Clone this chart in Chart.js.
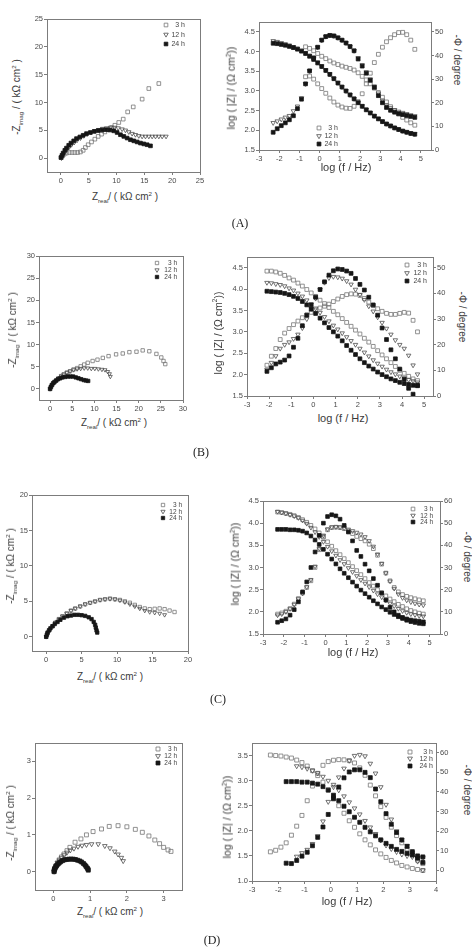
<!DOCTYPE html>
<html>
<head>
<meta charset="utf-8">
<script src="https://cdn.jsdelivr.net/npm/chart.js@4.4.1/dist/chart.umd.min.js"></script>
<style>
    html, body { margin: 0; padding: 0; background: #fff; }
    #figure { position: relative; width: 472px; height: 947px; overflow: hidden; background: #fff;
        font-family: 'Liberation Sans', Arial, sans-serif; color: #333; }
    #figure canvas { position: absolute; }
    .axis-title { position: absolute; white-space: nowrap; line-height: 1; color: #3a3a3a; }
    .axis-title sub, .axis-title sup { font-size: 62%; line-height: 0; }
    .panel-tag { position: absolute; font-family: 'Liberation Serif', 'Times New Roman', serif; font-size: 12px;
        color: #222; transform: translate(-50%, -50%); white-space: nowrap; }
</style>
</head>
<body>
<div id="figure"></div>
<script>
const hours = ['3 h', '12 h', '24 h'];

// Nyquist data: [Z_real, -Z_imag] in kOhm cm2
const nyquistA3h = [[0.1,0.1],[0.3,0.4],[0.6,0.7],[1.0,0.9],[1.5,1.0],[2.0,1.0],[2.5,1.0],[3.0,1.0],[3.5,1.1],[4.0,1.4],[4.4,1.9],[4.9,2.4],[5.5,2.9],[6.1,3.4],[6.7,3.9],[7.3,4.3],[7.9,4.7],[8.5,5.1],[9.1,5.5],[9.7,5.9],[10.4,6.4],[11.2,7.0],[12.0,8.3],[13.0,9.2],[14.6,10.6],[15.8,12.5],[17.6,13.4]];
const nyquistA12h = [[0.1,0.0],[0.3,0.4],[0.5,0.8],[0.8,1.2],[1.1,1.6],[1.5,2.0],[1.9,2.4],[2.4,2.8],[2.9,3.2],[3.5,3.6],[4.1,4.0],[4.7,4.3],[5.4,4.6],[6.1,4.9],[6.8,5.1],[7.5,5.3],[8.2,5.4],[8.9,5.5],[9.6,5.5],[10.3,5.4],[11.0,5.2],[11.6,5.0],[12.2,4.7],[12.8,4.4],[13.4,4.2],[14.0,4.0],[14.6,3.9],[15.2,3.9],[15.8,3.9],[16.4,3.9],[17.0,3.9],[17.6,3.9],[18.2,3.9],[18.9,3.9]];
const nyquistA24h = [[0.0,0.1],[0.2,0.5],[0.4,0.9],[0.7,1.4],[1.0,1.8],[1.4,2.3],[1.8,2.7],[2.3,3.1],[2.8,3.5],[3.4,3.8],[4.0,4.1],[4.6,4.4],[5.3,4.6],[6.0,4.8],[6.7,4.95],[7.4,5.05],[8.1,5.1],[8.8,5.05],[9.5,4.9],[10.1,4.6],[10.7,4.2],[11.3,3.9],[11.9,3.6],[12.5,3.3],[13.1,3.1],[13.7,2.9],[14.3,2.7],[14.9,2.55],[15.5,2.4],[16.1,2.2]];

const nyquistB3h = [[0.0,0.0],[0.2,0.4],[0.5,0.9],[0.9,1.4],[1.4,1.9],[1.9,2.4],[2.5,2.9],[3.1,3.3],[3.8,3.7],[4.5,4.0],[5.3,4.4],[6.1,4.7],[6.9,5.1],[7.7,5.5],[8.5,5.9],[9.6,6.3],[10.7,6.6],[11.9,7.0],[13.2,7.4],[14.9,7.8],[16.4,8.0],[17.9,8.3],[19.5,8.4],[20.9,8.7],[22.4,8.5],[24.0,7.9],[25.1,7.1],[25.6,6.3],[26.0,5.6]];
const nyquistB12h = [[0.0,0.0],[0.2,0.4],[0.5,0.9],[0.9,1.4],[1.4,1.9],[1.9,2.4],[2.5,2.9],[3.1,3.3],[3.8,3.7],[4.5,4.0],[5.3,4.3],[6.1,4.5],[6.9,4.6],[7.7,4.7],[8.5,4.7],[9.3,4.6],[10.1,4.6],[10.9,4.5],[11.7,4.4],[12.4,4.3],[13.0,3.9],[13.4,3.4],[13.6,2.8]];
const nyquistB24h = [[0.0,0.0],[0.2,0.5],[0.4,0.9],[0.7,1.3],[1.0,1.6],[1.4,1.9],[1.8,2.2],[2.3,2.4],[2.8,2.6],[3.4,2.7],[4.0,2.8],[4.6,2.8],[5.2,2.8],[5.8,2.6],[6.4,2.4],[7.0,2.2],[7.6,2.0],[8.1,1.9],[8.6,1.8]];

const nyquistC3h = [[0.0,0.0],[0.2,0.5],[0.5,1.0],[0.9,1.5],[1.3,2.0],[1.8,2.5],[2.3,2.9],[2.9,3.3],[3.5,3.7],[4.1,4.0],[4.8,4.3],[5.5,4.6],[6.2,4.8],[6.9,5.0],[7.6,5.2],[8.3,5.3],[9.0,5.4],[9.7,5.3],[10.4,5.2],[11.1,5.0],[11.8,4.8],[12.5,4.5],[13.2,4.2],[13.9,4.0],[14.6,3.9],[15.3,3.95],[16.0,4.0],[16.7,3.9],[17.4,3.7],[18.1,3.5]];
const nyquistC12h = [[0.0,0.0],[0.2,0.5],[0.5,1.0],[0.9,1.5],[1.3,2.0],[1.8,2.5],[2.3,2.9],[2.9,3.3],[3.5,3.7],[4.1,4.0],[4.8,4.3],[5.5,4.6],[6.2,4.8],[6.9,5.0],[7.6,5.2],[8.3,5.3],[9.0,5.35],[9.7,5.3],[10.4,5.15],[11.1,4.9],[11.8,4.6],[12.5,4.3],[13.2,4.0],[13.9,3.7],[14.6,3.5],[15.3,3.4],[16.0,3.3],[16.7,3.1]];
const nyquistC24h = [[0.0,0.0],[0.1,0.3],[0.2,0.6],[0.4,0.9],[0.6,1.2],[0.9,1.5],[1.2,1.8],[1.6,2.1],[2.0,2.4],[2.5,2.7],[3.0,2.9],[3.5,3.0],[4.0,3.1],[4.5,3.1],[5.0,3.05],[5.5,2.95],[6.0,2.75],[6.4,2.5],[6.7,2.1],[6.9,1.7],[7.0,1.3],[7.1,0.9],[7.2,0.6]];

const nyquistD3h = [[0.02,0.0],[0.04,0.08],[0.07,0.16],[0.11,0.24],[0.16,0.32],[0.22,0.4],[0.29,0.48],[0.37,0.57],[0.45,0.66],[0.59,0.8],[0.75,0.89],[0.9,1.0],[1.08,1.09],[1.31,1.16],[1.52,1.23],[1.76,1.25],[2.0,1.22],[2.23,1.15],[2.42,1.07],[2.6,0.97],[2.76,0.86],[2.89,0.76],[3.0,0.66],[3.12,0.59],[3.2,0.55]];
const nyquistD12h = [[0.02,0.0],[0.04,0.08],[0.07,0.16],[0.11,0.24],[0.16,0.31],[0.22,0.38],[0.29,0.45],[0.37,0.52],[0.46,0.58],[0.56,0.63],[0.67,0.68],[0.78,0.71],[0.9,0.73],[1.04,0.75],[1.22,0.75],[1.4,0.7],[1.54,0.64],[1.67,0.55],[1.76,0.47],[1.85,0.38],[1.9,0.29]];
const nyquistD24h = [[0.02,0.0],[0.02,0.03],[0.03,0.06],[0.04,0.09],[0.06,0.12],[0.08,0.15],[0.1,0.18],[0.13,0.21],[0.16,0.24],[0.2,0.27],[0.25,0.3],[0.3,0.32],[0.36,0.33],[0.42,0.34],[0.48,0.34],[0.54,0.34],[0.6,0.33],[0.66,0.31],[0.72,0.29],[0.77,0.26],[0.82,0.22],[0.86,0.18],[0.89,0.14],[0.92,0.1],[0.94,0.07],[0.95,0.04]];

// Bode data: log(f/Hz), log(|Z|/Ohm cm2), -phase in degrees (null = not measured)
const logFreqA = [-2.3,-2.1,-1.9,-1.7,-1.5,-1.3,-1.1,-0.9,-0.7,-0.5,-0.3,-0.1,0.1,0.3,0.5,0.7,0.9,1.1,1.3,1.5,1.7,1.9,2.1,2.3,2.5,2.7,2.9,3.1,3.3,3.5,3.7,3.9,4.1,4.3,4.5,4.7];
const logZA3h = [null,null,null,null,null,null,null,null,4.12,4.08,4.02,3.95,3.88,3.82,3.76,3.71,3.67,3.63,3.6,3.57,3.53,3.46,3.37,3.28,3.18,3.07,2.96,2.84,2.72,2.6,2.5,2.41,2.33,2.26,2.19,2.13];
const logZA12h = [4.27,4.25,4.22,4.19,4.16,4.12,4.08,4.03,3.97,3.9,3.82,3.73,3.63,3.53,3.43,3.32,3.21,3.1,3.0,2.9,2.8,2.71,2.62,2.53,2.45,2.37,2.3,2.23,2.17,2.12,2.07,2.03,1.99,1.96,1.93,1.91];
const logZA24h = [4.21,4.2,4.18,4.16,4.13,4.1,4.06,4.01,3.95,3.88,3.8,3.71,3.62,3.52,3.42,3.31,3.2,3.1,3.0,2.9,2.8,2.7,2.61,2.52,2.44,2.36,2.29,2.22,2.16,2.11,2.06,2.02,1.98,1.95,1.92,1.9];
const phaseA3h = [null,null,null,null,null,null,null,null,31,31.3,30,28,26,24,22,20.3,19,18.2,17.7,17.6,18.5,20.5,23.8,28,32.5,37,40.5,43.5,45.8,47.5,48.8,49.7,49.8,48.8,46.5,42.6];
const phaseA12h = [11.5,12.2,13,13.8,14.5,16.5,18.5,22,28,33.5,39,43.5,46.5,48,48.5,48.3,47.5,46.5,45.3,43.8,42,39,36,33,30,27,24,21,19,17.8,17,16.3,15.8,15.3,14.8,14.4];
const phaseA24h = [7.5,9,10.3,11.5,12.8,14.5,17.5,21.5,28,33.5,39,43.5,46.5,48,48.5,48.3,47.5,46.5,45.3,43.8,42,38.5,35.5,32.5,29.5,26.5,23,20,18,16.8,16,15.4,15,14.6,14.2,13.8];

const logFreqB = [-2.1,-1.9,-1.7,-1.5,-1.3,-1.1,-0.9,-0.7,-0.5,-0.3,-0.1,0.1,0.3,0.5,0.7,0.9,1.1,1.3,1.5,1.7,1.9,2.1,2.3,2.5,2.7,2.9,3.1,3.3,3.5,3.7,3.9,4.1,4.3,4.5,4.7];
const logZB3h = [4.42,4.42,4.4,4.37,4.32,4.26,4.21,4.14,4.07,3.99,3.91,3.83,3.74,3.66,3.57,3.48,3.4,3.31,3.22,3.13,3.04,2.95,2.85,2.76,2.66,2.56,2.46,2.37,2.28,2.19,2.1,2.03,1.96,1.9,1.86];
const logZB12h = [4.15,4.14,4.12,4.1,4.07,4.02,3.97,3.9,3.83,3.74,3.65,3.55,3.45,3.35,3.25,3.15,3.06,2.97,2.88,2.79,2.7,2.61,2.52,2.43,2.34,2.26,2.19,2.12,2.06,2.01,1.96,1.92,1.88,1.85,1.82];
const logZB24h = [3.95,3.94,3.93,3.92,3.9,3.87,3.83,3.78,3.71,3.63,3.53,3.43,3.32,3.21,3.1,3.0,2.9,2.79,2.68,2.57,2.47,2.37,2.28,2.2,2.13,2.06,2.0,1.95,1.9,1.86,1.82,1.79,1.77,1.75,1.75];
const phaseB3h = [12,15.5,18.5,22,24.5,26.3,27.8,29.2,30.5,31.6,32.6,33.5,34.3,35,35.8,36.8,37.8,38.8,39.5,39.8,39.7,39.2,38,36.6,35.2,34,33,32.2,31.8,31.8,32.2,32.6,32.3,29.5,25];
const phaseB12h = [10.3,13,15.6,18.5,20,21,22.3,24,26.5,30,34,38,41.5,44.2,46,46.5,46.3,45.8,44.8,43.5,41.5,39.5,37.5,35,33,30.7,28.6,26.3,24,21.8,20,18.5,15.8,12,8.5];
const phaseB24h = [9.6,11,12.5,13.2,14,15.6,19,22.5,27.4,31.5,35.5,38.5,41.5,44.5,47.1,48.8,49.5,49.3,48.7,47.8,45.8,43.5,41.3,38.5,35.5,31.5,26.5,22,18,14.5,10.5,6.5,3,0.7,4];

const logFreqC = [-2.3,-2.1,-1.9,-1.7,-1.5,-1.3,-1.1,-0.9,-0.7,-0.5,-0.3,-0.1,0.1,0.3,0.5,0.7,0.9,1.1,1.3,1.5,1.7,1.9,2.1,2.3,2.5,2.7,2.9,3.1,3.3,3.5,3.7,3.9,4.1,4.3,4.5,4.7];
const logZC3h = [4.25,4.24,4.22,4.2,4.17,4.13,4.08,4.02,3.95,3.87,3.78,3.68,3.58,3.48,3.38,3.29,3.2,3.11,3.02,2.93,2.84,2.75,2.66,2.58,2.5,2.43,2.36,2.29,2.23,2.17,2.12,2.07,2.03,2.0,1.97,1.95];
const logZC12h = [4.26,4.24,4.22,4.19,4.16,4.12,4.06,3.99,3.9,3.8,3.69,3.58,3.47,3.37,3.27,3.17,3.08,2.99,2.9,2.81,2.72,2.64,2.56,2.48,2.4,2.33,2.26,2.19,2.13,2.07,2.02,1.98,1.95,1.93,1.91,1.9];
const logZC24h = [3.86,3.86,3.86,3.85,3.85,3.84,3.82,3.78,3.71,3.62,3.52,3.41,3.3,3.19,3.08,2.97,2.87,2.77,2.67,2.58,2.49,2.41,2.33,2.25,2.18,2.11,2.05,1.99,1.94,1.89,1.85,1.81,1.78,1.76,1.74,1.73];
const phaseC3h = [9,9.5,10.3,11.5,13.5,16,18.5,21,24,30,38,44,47,48,48.2,48,47.5,46.5,45.3,44,43,42,40.5,38.5,35.5,31.5,27.5,24,21,19,17.8,17,16.4,15.9,15.4,15];
const phaseC12h = [8.5,9,10,11.3,13.3,15.8,18.3,21.2,24.5,30.5,38.5,44.5,47.3,48.2,48.3,48.2,47.8,47.2,46.5,45.8,45,43.8,42,39.5,36,31.8,27.5,23.8,20.5,18,16.3,15.2,14.4,13.8,13.3,13];
const phaseC24h = [5.3,6,6.8,8.5,11,14.5,19,23.5,30,37,44.5,50,53,53.8,53.3,51.8,49,46,42,37.7,35,31.5,28.5,25,22,18.5,15.3,12,10,8.5,7.5,6.8,6.3,6,5.8,5.5];

const logFreqD = [-2.3,-2.1,-1.9,-1.7,-1.5,-1.3,-1.1,-0.9,-0.7,-0.5,-0.3,-0.1,0.1,0.3,0.5,0.7,0.9,1.1,1.3,1.5,1.7,1.9,2.1,2.3,2.5,2.7,2.9,3.1,3.3,3.5];
const logZD3h = [3.51,3.5,3.49,3.47,3.45,3.41,3.36,3.29,3.2,3.1,2.97,2.82,2.66,2.5,2.35,2.2,2.07,1.94,1.82,1.72,1.62,1.54,1.47,1.41,1.36,1.31,1.28,1.25,1.23,1.21];
const logZD12h = [null,null,null,null,null,3.29,3.27,3.24,3.2,3.15,3.08,3.0,2.92,2.81,2.69,2.57,2.45,2.33,2.2,2.07,1.94,1.81,1.71,1.64,1.58,1.53,1.5,1.48,1.47,1.46];
const logZD24h = [null,null,null,2.98,2.98,2.98,2.97,2.97,2.95,2.93,2.88,2.81,2.71,2.6,2.49,2.38,2.27,2.17,2.07,1.98,1.9,1.82,1.75,1.69,1.63,1.59,1.55,1.52,1.5,1.48];
const phaseD3h = [9.4,10.2,11.8,14,17.9,22.5,28,35.5,43,49.5,53.6,55.5,56.2,56.5,56.4,56,54.8,52.3,48.5,43.5,38,32.5,27,22,17.7,14,10.8,7.8,5.1,3.4];
const phaseD12h = [null,null,null,null,null,7,8.8,10.5,13.5,17.5,25,35,42.5,47.5,52,56,58.5,59,58.3,54.5,49.5,42.5,33.5,26,20,15.5,12.5,9,4.5,0];
const phaseD24h = [null,null,null,3.6,3.4,5,7.2,9.2,12.5,16.8,22.1,28.5,36.5,42.5,47.2,50.2,51.3,51.3,50,47.3,41.5,35,28.9,23.5,19.3,15.5,12.2,9.5,6.2,4];

// tick labels
const nyquistTicksA = [0, 5, 10, 15, 20, 25];
const nyquistTicksB = [0, 5, 10, 15, 20, 25, 30];
const nyquistTicksC = [0, 5, 10, 15, 20];
const nyquistTicksD = [0, 1, 2, 3];
const logFreqTicks = [-3, -2, -1, 0, 1, 2, 3, 4, 5];
const logFreqTicksD = [-3, -2, -1, 0, 1, 2, 3, 4];
const logZTicks = [1.5, 2.0, 2.5, 3.0, 3.5, 4.0, 4.5];
const logZTicksD = [1.0, 1.5, 2.0, 2.5, 3.0, 3.5];
const phaseTicks50 = [0, 10, 20, 30, 40, 50];
const phaseTicks60 = [0, 10, 20, 30, 40, 50, 60];

const figure = document.getElementById('figure');
const frameColor = '#7c7c7c';
const tickFont = { family: "'Liberation Sans', Arial, sans-serif", size: 7.5 };

const markerStyles = {
    '3 h': { shape: 'rect', fill: 'rgba(255,255,255,0)', stroke: '#767676', order: 2 },
    '12 h': { shape: 'triangle', fill: 'rgba(255,255,255,0)', stroke: '#4e4e4e', order: 1 },
    '24 h': { shape: 'rect', fill: '#161616', stroke: '#161616', order: 0 },
};

function toPoints(xs, ys) {
    return xs.map((x, i) => ({ x, y: ys[i] })).filter((p) => p.y !== null);
}

function pairsToPoints(pairs) {
    return pairs.map(([x, y]) => ({ x, y }));
}

function pointDataset(label, data, radius, yAxisID) {
    const style = markerStyles[label];
    const isTriangle = style.shape === 'triangle';

    return {
        label,
        data,
        yAxisID,
        order: style.order,
        showLine: false,
        pointStyle: style.shape,
        pointRotation: isTriangle ? 180 : 0,
        pointRadius: isTriangle ? radius * 0.95 : radius,
        pointHoverRadius: radius,
        pointBorderWidth: 0.8,
        pointBorderColor: style.stroke,
        pointBackgroundColor: style.fill,
    };
}

function drawMarker(ctx, label, x, y, radius) {
    const style = markerStyles[label];
    ctx.beginPath();
    if (style.shape === 'rect') {
        const side = radius * Math.SQRT2;
        ctx.rect(x - side / 2, y - side / 2, side, side);
    } else {
        ctx.moveTo(x, y + radius);
        ctx.lineTo(x - radius * 0.866, y - radius / 2);
        ctx.lineTo(x + radius * 0.866, y - radius / 2);
        ctx.closePath();
    }
    ctx.fillStyle = style.fill;
    ctx.fill();
    ctx.lineWidth = 0.8;
    ctx.strokeStyle = style.stroke;
    ctx.stroke();
}

const framePlugin = {
    id: 'frame',
    afterDraw(chart) {
        const { ctx, chartArea: area } = chart;
        ctx.save();
        ctx.strokeStyle = frameColor;
        ctx.lineWidth = 1;
        ctx.strokeRect(
            Math.round(area.left) + 0.5,
            Math.round(area.top) + 0.5,
            Math.round(area.right - area.left),
            Math.round(area.bottom - area.top),
        );
        ctx.restore();
    },
};

const insideLegendPlugin = {
    id: 'insideLegend',
    afterDraw(chart, args, opts) {
        if (!opts || !opts.rows) {
            return;
        }
        const ctx = chart.ctx;
        ctx.save();
        ctx.font = `${opts.fontSize}px 'Liberation Sans', Arial, sans-serif`;
        ctx.textAlign = 'right';
        ctx.textBaseline = 'middle';
        hours.forEach((label, i) => {
            drawMarker(ctx, label, opts.symbolX, opts.rows[i], opts.radius);
            ctx.fillStyle = '#444';
            ctx.fillText(label, opts.textRight, opts.rows[i] + 0.5);
        });
        ctx.restore();
    },
};

function linearAxis(position, range, ticks, size, decimals) {
    const vertical = position === 'left' || position === 'right';

    return {
        type: 'linear',
        position,
        min: range[0],
        max: range[1],
        afterBuildTicks: (scale) => {
            scale.ticks = ticks.map((value) => ({ value }));
        },
        afterFit: (scale) => {
            if (vertical) {
                scale.width = size;
            } else {
                scale.height = size;
            }
        },
        ticks: {
            font: tickFont,
            color: '#4a4a4a',
            padding: 1,
            autoSkip: false,
            maxRotation: 0,
            callback: (value) => (decimals ? Number(value).toFixed(decimals) : String(value)),
        },
        grid: {
            display: true,
            drawOnChartArea: false,
            drawTicks: true,
            tickLength: 3,
            tickColor: frameColor,
            color: frameColor,
        },
        border: { display: false },
    };
}

function placeCanvas(frame, margin) {
    const [left, top, width, height] = frame;
    const canvas = document.createElement('canvas');
    const w = margin.left + width + margin.right;
    const h = margin.top + height + margin.bottom;
    canvas.width = w;
    canvas.height = h;
    canvas.style.width = `${w}px`;
    canvas.style.height = `${h}px`;
    canvas.style.left = `${left - margin.left}px`;
    canvas.style.top = `${top - margin.top}px`;
    figure.appendChild(canvas);

    return { canvas, origin: [left - margin.left, top - margin.top] };
}

function legendOptions(legend, origin, radius) {
    return {
        symbolX: legend.symbolX - origin[0],
        textRight: legend.textRight - origin[0],
        rows: legend.rows.map((y) => y - origin[1]),
        fontSize: legend.fontSize,
        radius,
    };
}

function baseOptions(padding) {
    return {
        responsive: false,
        devicePixelRatio: 1,
        animation: false,
        events: [],
        layout: { padding },
    };
}

function buildNyquist(panel) {
    const margin = { left: 22, right: 8, top: 6, bottom: 14 };
    const { canvas, origin } = placeCanvas(panel.frame, margin);

    new Chart(canvas, {
        type: 'scatter',
        data: {
            datasets: hours.map((label, i) => pointDataset(label, pairsToPoints(panel.series[i]), panel.radius, 'y')),
        },
        options: {
            ...baseOptions({ top: margin.top, right: margin.right, left: 0, bottom: 0 }),
            scales: {
                x: linearAxis('bottom', panel.range, panel.ticks, margin.bottom, 0),
                y: linearAxis('left', panel.range, panel.ticks, margin.left, 0),
            },
            plugins: {
                legend: { display: false },
                tooltip: { enabled: false },
                insideLegend: legendOptions(panel.legend, origin, panel.radius),
            },
        },
        plugins: [framePlugin, insideLegendPlugin],
    });
}

function buildBode(panel) {
    const margin = { left: 24, right: 20, top: 6, bottom: 14 };
    const { canvas, origin } = placeCanvas(panel.frame, margin);
    const datasets = [];

    hours.forEach((label, i) => {
        datasets.push(pointDataset(label, toPoints(panel.freq, panel.logZ[i]), panel.radius, 'y'));
        datasets.push(pointDataset(label, toPoints(panel.freq, panel.phase[i]), panel.radius, 'y2'));
    });

    new Chart(canvas, {
        type: 'scatter',
        data: { datasets },
        options: {
            ...baseOptions({ top: margin.top, right: 0, left: 0, bottom: 0 }),
            scales: {
                x: linearAxis('bottom', panel.xRange, panel.xTicks, margin.bottom, 0),
                y: linearAxis('left', panel.zRange, panel.zTicks, margin.left, 1),
                y2: linearAxis('right', panel.phaseRange, panel.phaseTicks, margin.right, 0),
            },
            plugins: {
                legend: { display: false },
                tooltip: { enabled: false },
                insideLegend: legendOptions(panel.legend, origin, panel.radius),
            },
        },
        plugins: [framePlugin, insideLegendPlugin],
    });
}

function addText(html, cx, cy, size, rotate) {
    const el = document.createElement('div');
    el.className = 'axis-title';
    el.innerHTML = html;
    el.style.left = `${cx}px`;
    el.style.top = `${cy}px`;
    el.style.fontSize = `${size}px`;
    el.style.transform = `translate(-50%, -50%) rotate(${rotate || 0}deg)`;
    figure.appendChild(el);
}

function addTag(text, cx, cy) {
    const el = document.createElement('div');
    el.className = 'panel-tag';
    el.textContent = text;
    el.style.left = `${cx}px`;
    el.style.top = `${cy}px`;
    figure.appendChild(el);
}

const nyquistYTitle = '-Z<sub>imag</sub> / ( kΩ cm<sup>2</sup> )';
const nyquistXTitle = 'Z<sub>real</sub>/ ( kΩ cm<sup>2</sup> )';
const bodeZTitle = 'log ( |Z| / (Ω cm<sup>2</sup>))';
const bodeFTitle = 'log (f / Hz)';
const bodePhaseTitle = '-Φ / degree';

const rows = [
    {
        tag: ['(A)', 240, 223],
        nyquist: {
            frame: [47, 19, 153, 153], range: [-2.5, 25], ticks: nyquistTicksA, radius: 2.6,
            series: [nyquistA3h, nyquistA12h, nyquistA24h],
            legend: { symbolX: 166, textRight: 185, rows: [25, 34.5, 44], fontSize: 7 },
            titles: { y: [17, 97], x: [125, 197] },
        },
        bode: {
            frame: [259, 22, 172, 128], xRange: [-3, 5.5], xTicks: logFreqTicks,
            zRange: [1.5, 4.75], zTicks: logZTicks, phaseRange: [0, 54.17], phaseTicks: phaseTicks50,
            freq: logFreqA, logZ: [logZA3h, logZA12h, logZA24h], phase: [phaseA3h, phaseA12h, phaseA24h],
            radius: 2.7,
            legend: { symbolX: 319, textRight: 338, rows: [128, 136, 144], fontSize: 7 },
            titles: { z: [231, 88], phase: [457, 60], f: [346, 167] },
        },
    },
    {
        tag: ['(B)', 201, 452],
        nyquist: {
            frame: [39, 256, 144, 144], range: [-2.5, 30], ticks: nyquistTicksB, radius: 2.4,
            series: [nyquistB3h, nyquistB12h, nyquistB24h],
            legend: { symbolX: 157, textRight: 177, rows: [263, 270, 277], fontSize: 6.5 },
            titles: { y: [13, 330], x: [114, 423] },
        },
        bode: {
            frame: [247, 257, 186, 139], xRange: [-3, 5.4], xTicks: logFreqTicks,
            zRange: [1.5, 4.75], zTicks: logZTicks, phaseRange: [0, 54.17], phaseTicks: phaseTicks50,
            freq: logFreqB, logZ: [logZB3h, logZB12h, logZB24h], phase: [phaseB3h, phaseB12h, phaseB24h],
            radius: 2.7,
            legend: { symbolX: 407, textRight: 427, rows: [265, 273, 281], fontSize: 7 },
            titles: { z: [218, 333], phase: [462, 317], f: [343, 418] },
        },
    },
    {
        tag: ['(C)', 218, 699],
        nyquist: {
            frame: [32, 495, 156, 156], range: [-2, 20], ticks: nyquistTicksC, radius: 2.4,
            series: [nyquistC3h, nyquistC12h, nyquistC24h],
            legend: { symbolX: 163, textRight: 182, rows: [505, 511.5, 518], fontSize: 6.5 },
            titles: { y: [11, 566], x: [110, 677] },
        },
        bode: {
            frame: [263, 501, 177, 133], xRange: [-3, 5.5], xTicks: logFreqTicks,
            zRange: [1.5, 4.5], zTicks: logZTicks, phaseRange: [0, 60], phaseTicks: phaseTicks60,
            freq: logFreqC, logZ: [logZC3h, logZC12h, logZC24h], phase: [phaseC3h, phaseC12h, phaseC24h],
            radius: 2.6,
            legend: { symbolX: 413, textRight: 433, rows: [509, 515.5, 522], fontSize: 6.5 },
            titles: { z: [235, 564], phase: [467, 557], f: [353, 652] },
        },
    },
    {
        tag: ['(D)', 212, 940],
        nyquist: {
            frame: [35, 743, 147, 147], range: [-0.5, 3.5], ticks: nyquistTicksD, radius: 2.8,
            series: [nyquistD3h, nyquistD12h, nyquistD24h],
            legend: { symbolX: 158, textRight: 177, rows: [749, 756, 763], fontSize: 6.5 },
            titles: { y: [11, 823], x: [110, 912] },
        },
        bode: {
            frame: [252, 743, 184, 138], xRange: [-3, 4], xTicks: logFreqTicksD,
            zRange: [1.0, 3.75], zTicks: logZTicksD, phaseRange: [-5.5, 65], phaseTicks: phaseTicks60,
            freq: logFreqD, logZ: [logZD3h, logZD12h, logZD24h], phase: [phaseD3h, phaseD12h, phaseD24h],
            radius: 2.8,
            legend: { symbolX: 410, textRight: 433, rows: [752, 758.5, 766], fontSize: 7 },
            titles: { z: [227, 817], phase: [467, 790], f: [347, 901] },
        },
    },
];

rows.forEach((row) => {
    const nyq = row.nyquist;
    const bode = row.bode;

    buildNyquist(nyq);
    buildBode(bode);

    addText(nyquistYTitle, nyq.titles.y[0], nyq.titles.y[1], 10, -90);
    addText(nyquistXTitle, nyq.titles.x[0], nyq.titles.x[1], 10, 0);
    addText(bodeZTitle, bode.titles.z[0], bode.titles.z[1], 10.5, -90);
    addText(bodePhaseTitle, bode.titles.phase[0], bode.titles.phase[1], 10, 90);
    addText(bodeFTitle, bode.titles.f[0], bode.titles.f[1], 11, 0);
    addTag(...row.tag);
});
</script>
</body>
</html>
